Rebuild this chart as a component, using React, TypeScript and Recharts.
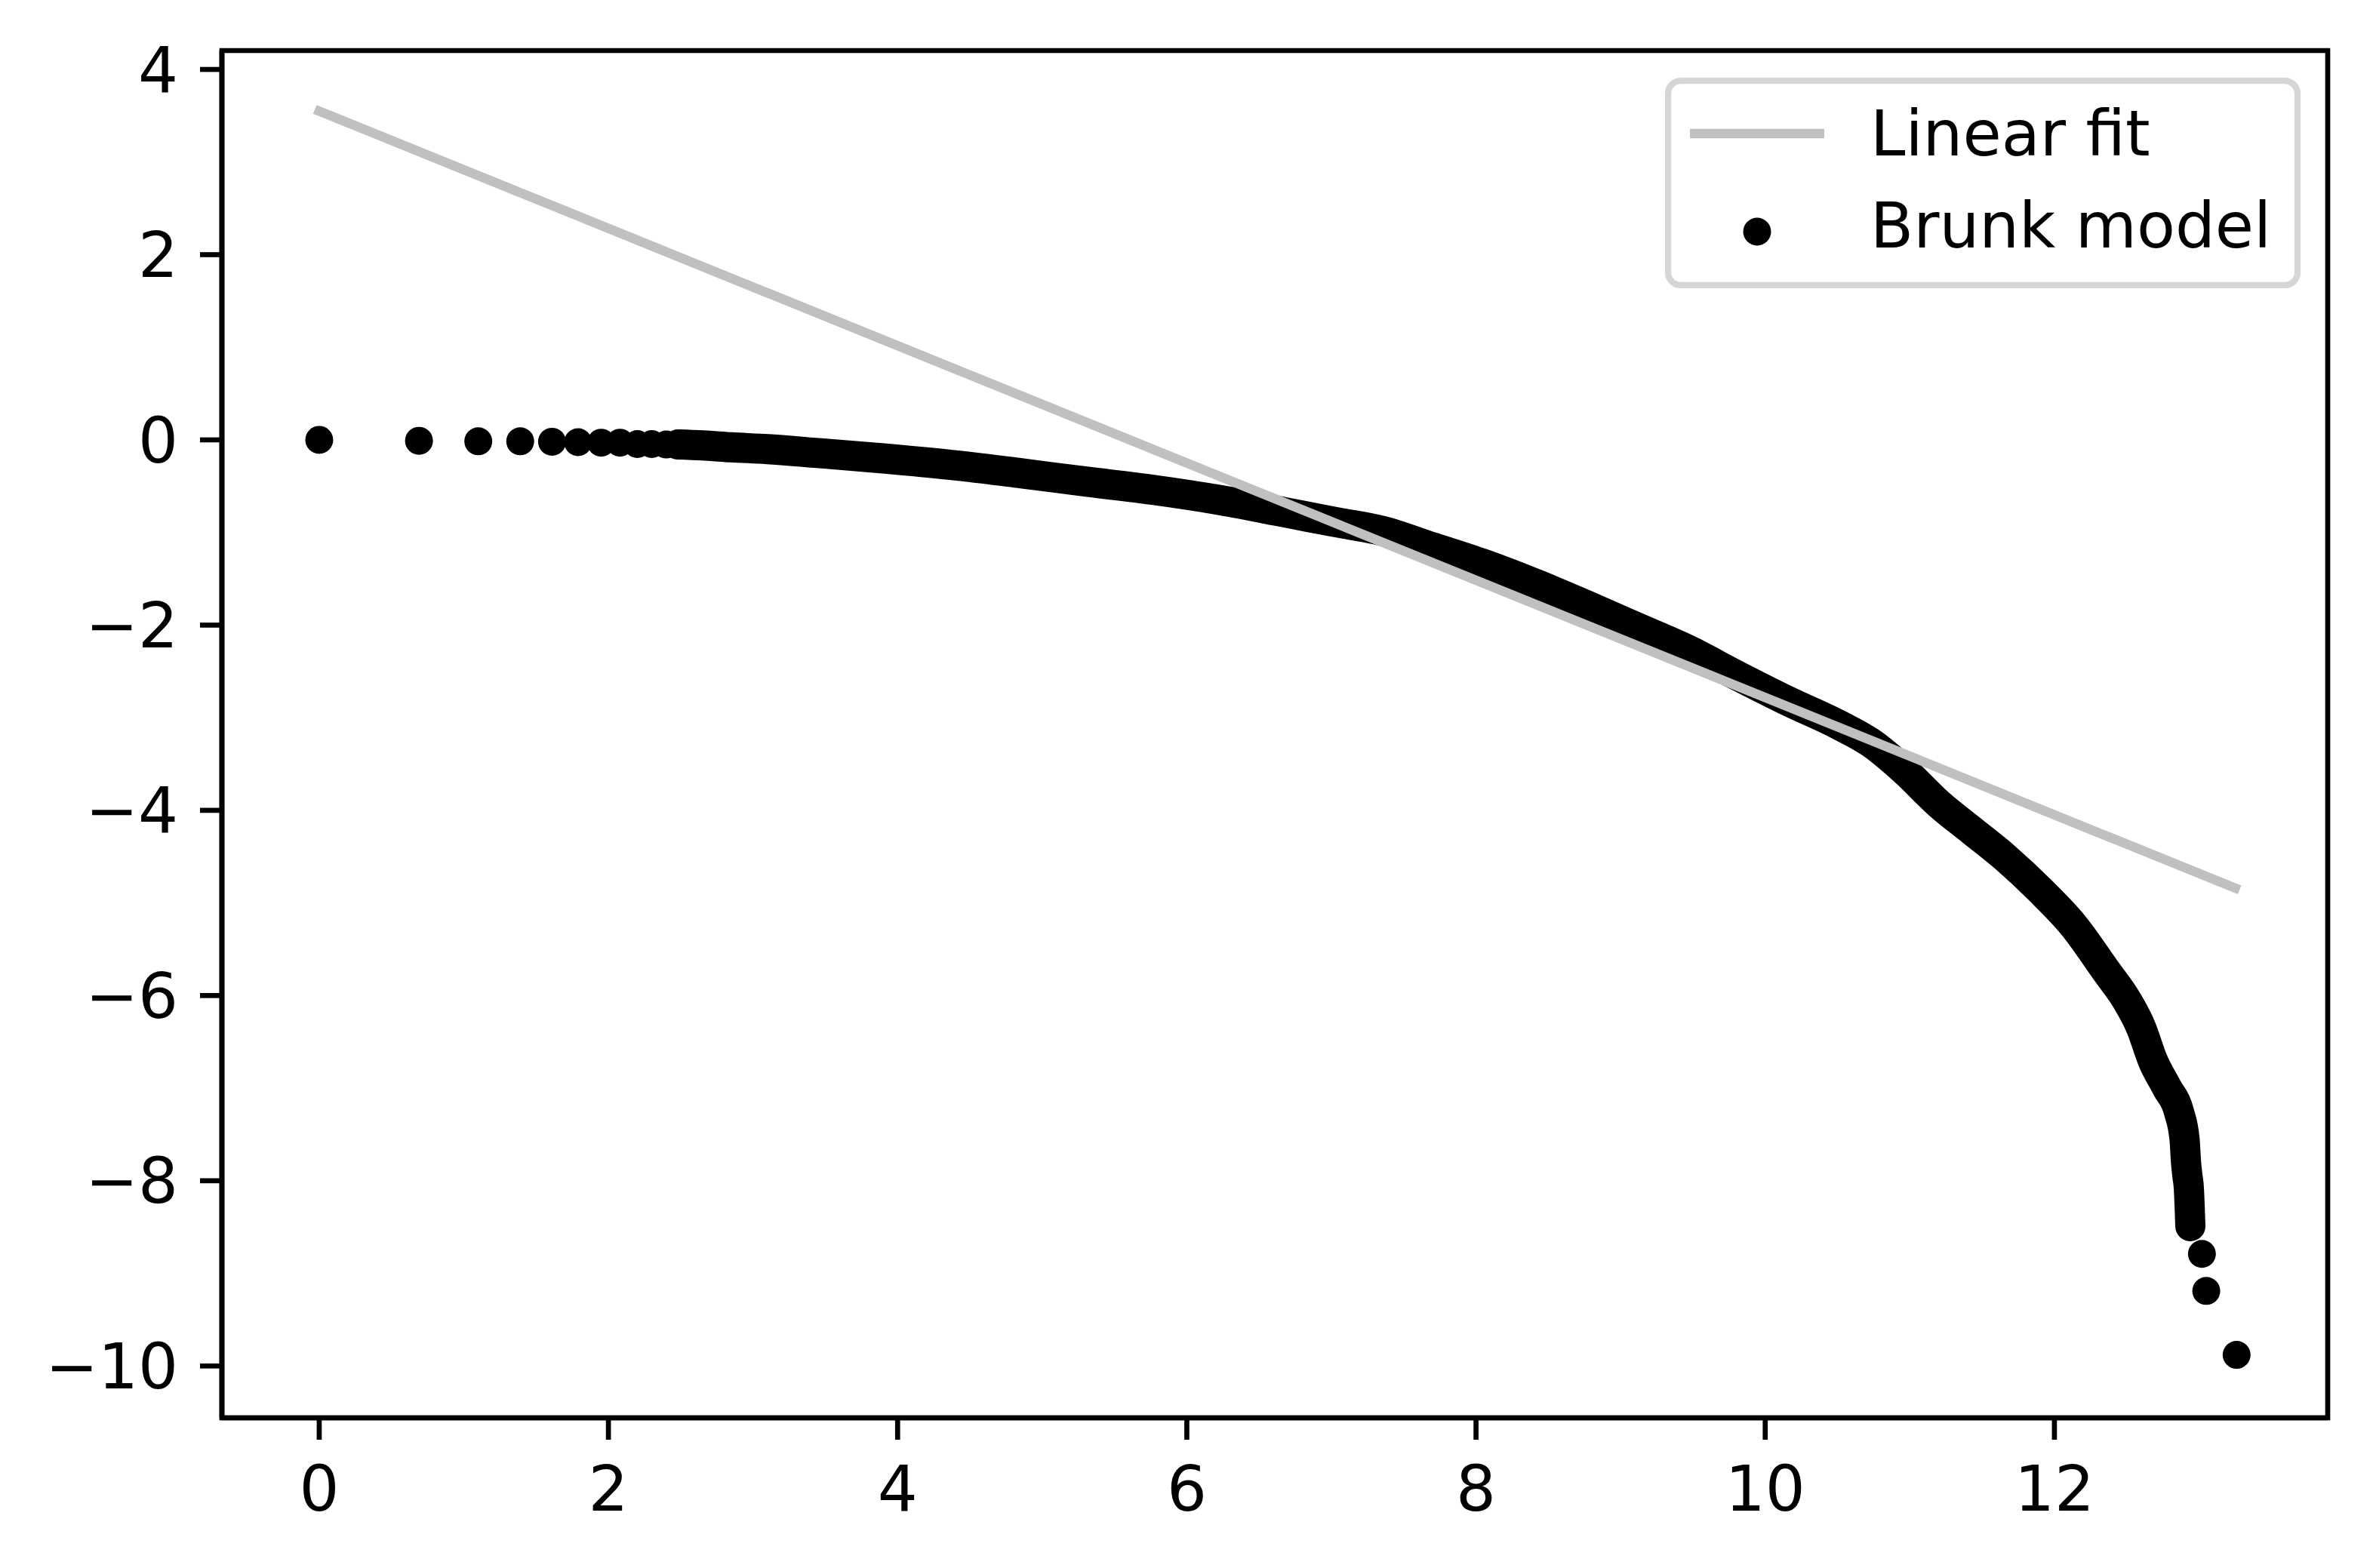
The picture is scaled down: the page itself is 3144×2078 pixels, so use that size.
import { ScatterChart, Scatter, XAxis, YAxis, ReferenceArea, Legend } from "recharts";

// tick positions
const xTicks = [0, 2, 4, 6, 8, 10, 12];
const yTicks = [-10, -8, -6, -4, -2, 0, 2, 4];

// linear fit end points
const fitX = [0, 13.25];
const fitY = [3.55, -4.84];

// Brunk model: first points, still separate dots
const sparseX = [0, 0.69, 1.1, 1.39, 1.61, 1.79, 1.95, 2.08, 2.2, 2.3, 2.4];
const sparseY = [0, -0.01, -0.015, -0.015, -0.02, -0.025, -0.03, -0.03, -0.045, -0.045, -0.05];

// Brunk model: dense band (read along the middle of the band)
const denseX = [
  2.48, 2.65, 2.85, 3.1, 3.43, 3.9, 4.37, 4.85, 5.3, 5.77, 6.23, 6.67, 7.0, 7.37, 7.7,
  8.07, 8.42, 8.77, 9.12, 9.47, 9.8, 10.17, 10.5, 10.73, 10.97, 11.2, 11.43, 11.66,
  11.9, 12.13, 12.36, 12.5, 12.6, 12.68, 12.78, 12.86, 12.9, 12.91, 12.92, 12.93,
  12.935, 12.94,
];
const denseY = [
  -0.05, -0.06, -0.08, -0.1, -0.14, -0.2, -0.27, -0.36, -0.45, -0.54, -0.65, -0.78, -0.88,
  -0.99, -1.16, -1.35, -1.56, -1.79, -2.03, -2.27, -2.54, -2.83, -3.07, -3.27, -3.58,
  -3.93, -4.22, -4.51, -4.86, -5.24, -5.74, -6.05, -6.35, -6.7, -7.0, -7.25, -7.55,
  -7.8, -7.95, -8.09, -8.27, -8.49,
];

// Brunk model: last separate dots
const tailX = [13.02, 13.05, 13.26];
const tailY = [-8.79, -9.19, -9.88];

const zip = (xs: number[], ys: number[]) => xs.map((x, i) => ({ x, y: ys[i] }));

const fitData = zip(fitX, fitY);
const sparseData = zip(sparseX, sparseY);
const denseData = zip(denseX, denseY);
const tailData = zip(tailX, tailY);

const FONT = "'DejaVu Sans', sans-serif";
const FS = 83.33;
const LW = 6.67;
const GREY = "#c0c0c0";
const BAND = 40;

const dot = (p: any) => <circle cx={p.cx} cy={p.cy} r={18.5} fill="#000" />;
const noDot = () => <g />;

const fmtY = (v: number) => (v < 0 ? `\u2212${Math.abs(v)}` : `${v}`);

const renderLegend = () => (
  <svg width={842} height={279}>
    <rect x={4} y={4} width={834} height={271} rx={17} fill="#fff" stroke="#d6d6d6" strokeWidth={8.3} />
    <line x1={33} x2={211} y1={74} y2={74} stroke={GREY} strokeWidth={12.5} />
    <circle cx={122} cy={204} r={18.5} fill="#000" />
    <text x={272} y={103} fontFamily={FONT} fontSize={FS} fill="#000">Linear fit</text>
    <text x={272} y={225} fontFamily={FONT} fontSize={FS} fill="#000">Brunk model</text>
  </svg>
);

const App = () => {
  return (
    <div style={{ position: "absolute", left: 0, top: 0, width: 3144, height: 2078, background: "#fff" }}>
      <ScatterChart width={3144} height={2078} margin={{ top: 67, right: 60, bottom: 0, left: 0 }}>
        <XAxis
          type="number"
          dataKey="x"
          domain={[-0.673, 13.89]}
          ticks={xTicks}
          interval={0}
          allowDataOverflow
          height={199}
          tickSize={29}
          tickMargin={35}
          axisLine={{ stroke: "#000", strokeWidth: LW }}
          tickLine={{ stroke: "#000", strokeWidth: LW }}
          tick={{ fill: "#000", fontSize: FS, fontFamily: FONT }}
        />
        <YAxis
          type="number"
          dataKey="y"
          domain={[-10.56, 4.204]}
          ticks={yTicks}
          interval={0}
          allowDataOverflow
          width={294}
          tickSize={29}
          tickMargin={29}
          tickFormatter={fmtY}
          axisLine={{ stroke: "#000", strokeWidth: LW }}
          tickLine={{ stroke: "#000", strokeWidth: LW }}
          tick={{ fill: "#000", fontSize: FS, fontFamily: FONT }}
        />
        <Scatter name="Brunk model" data={sparseData} shape={dot} isAnimationActive={false} />
        <Scatter
          name="Brunk model dense"
          data={denseData}
          shape={dot}
          stroke="#000"
          strokeWidth={BAND}
          lineJointType="monotoneX"
          line={{ stroke: "#000", strokeWidth: BAND, strokeLinejoin: "round", strokeLinecap: "round" }}
          isAnimationActive={false}
        />
        <Scatter name="Brunk model tail" data={tailData} shape={dot} isAnimationActive={false} />
        <Scatter
          name="Linear fit"
          data={fitData}
          shape={noDot}
          line={{ stroke: GREY, strokeWidth: 12.5, strokeLinecap: "square" }}
          isAnimationActive={false}
        />
        <ReferenceArea
          x1={-0.673}
          x2={13.89}
          y1={-10.56}
          y2={4.204}
          fill="none"
          fillOpacity={0}
          stroke="#000"
          strokeWidth={LW}
          ifOverflow="visible"
        />
        <Legend
          layout="vertical"
          align="center"
          verticalAlign="middle"
          content={renderLegend}
          wrapperStyle={{ position: "absolute", left: 2206, top: 103, width: 842, height: 279 }}
        />
      </ScatterChart>
    </div>
  );
};

export default App;
